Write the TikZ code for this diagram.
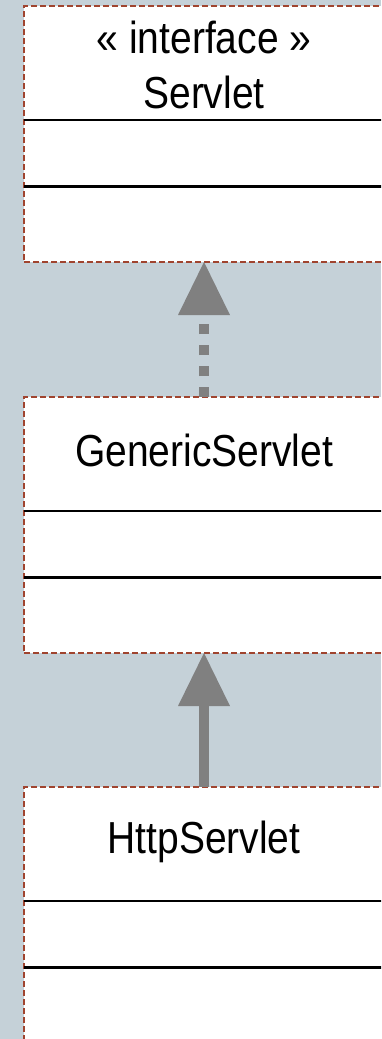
\documentclass[tikz,border=0pt]{standalone}
\usepackage{fontspec}
\setmainfont{Liberation Sans}
\usetikzlibrary{arrows.meta}
\definecolor{canvas}{HTML}{C5D1D8}
\definecolor{frame}{HTML}{A0442F}
\definecolor{link}{HTML}{808080}
% class names are set slightly tall
\newcommand{\tallname}[1]{\scalebox{1}[1.15]{#1}}
\begin{document}
\begin{tikzpicture}[x=1pt,y=-1pt,
  classbox/.style={rectangle, draw=frame, line width=2pt,
    dash pattern=on 6pt off 3pt, fill=white,
    minimum width=360pt, minimum height=256pt,
    anchor=north west, inner sep=0pt, outer sep=0pt},
  divider/.style={black, line width=2.2pt},
  title/.style={font=\fontsize{39}{47}\selectfont, anchor=base, inner sep=0pt},
  realize/.style={link, line width=10pt, dash pattern=on 10pt off 11pt,
    -{Triangle[width=52pt,length=53pt,line width=0pt]}},
  inherit/.style={link, line width=10pt,
    -{Triangle[width=52pt,length=53pt,line width=0pt]}}
]
\useasboundingbox (0,0) rectangle (381,1039);
\clip (0,0) rectangle (381,1039);
\fill[canvas] (0,0) rectangle (381,1039);

% class boxes
\node[classbox] (servlet) at (24,6) {};
\node[classbox] (generic) at (24,397) {};
\node[classbox] (http) at (24,787) {};

% compartment dividers
\foreach \b in {servlet,generic,http} {
  \draw[divider] ([yshift=-114pt]\b.north west) -- ([yshift=-114pt]\b.north east);
  \draw[divider] ([yshift=-180.5pt]\b.north west) -- ([yshift=-180.5pt]\b.north east);
}

% relations
\draw[realize] (generic.north) -- (servlet.south);
\draw[inherit] (http.north) -- (generic.south);

% class names
\node[title] (stereo) at (204,53) {\tallname{« interface »}};
\node[title] (sname) at (204,108) {\tallname{Servlet}};
\node[title] (gname) at (204,466) {\tallname{GenericServlet}};
\node[title] (hname) at (204,853) {\tallname{HttpServlet}};
\end{tikzpicture}
\end{document}
